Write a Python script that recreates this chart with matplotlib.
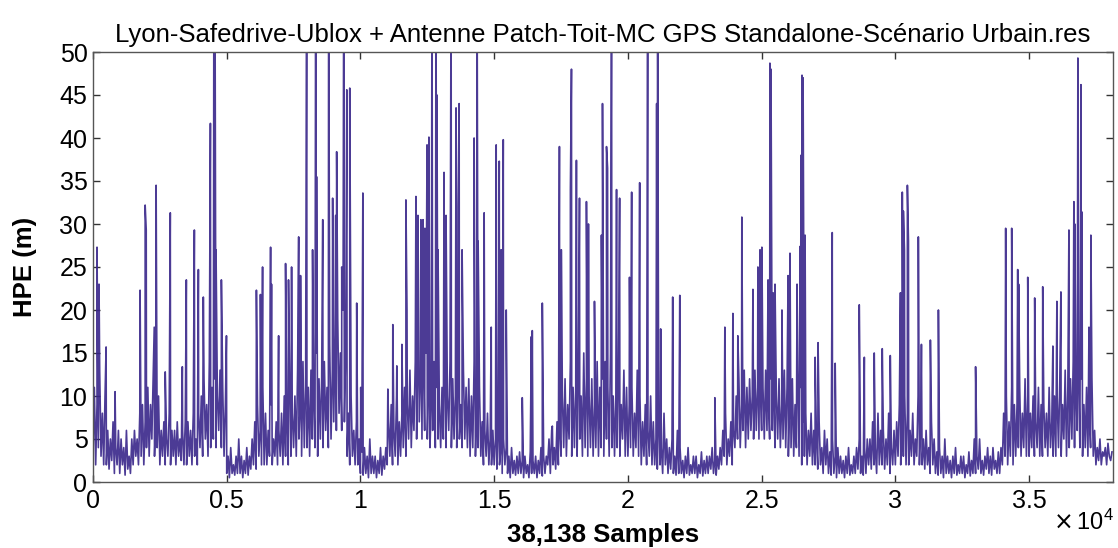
import numpy as np
import matplotlib
matplotlib.use('Agg')
import matplotlib.pyplot as plt

plt.rcParams['font.family'] = ['Liberation Sans', 'DejaVu Sans']

# dense core of the HPE trace, one value every 50 samples, 10 per 500-sample row
# (read off the picture as the low / high swing of the dark band)
core_step = 50
core_hpe = [
    3, 11, 2, 9, 4, 13, 3, 8, 2, 10,
    2, 6, 1.5, 5, 2.5, 7, 1, 4, 2, 6,
    1, 5, 2, 4, 0.8, 6, 1.5, 3, 1, 5,
    2, 6, 3, 5, 2, 8, 3, 9, 2, 7,
    4, 11, 3, 9, 5, 12, 3, 8, 4, 10,
    2, 6, 3, 7, 2, 5, 3, 8, 2, 6,
    3, 6, 2, 7, 3, 5, 2.5, 6, 2, 7,
    2, 7, 3, 6, 2, 8, 3, 5, 2, 8,
    4, 10, 3, 12, 5, 9, 3, 14, 4, 11,
    5, 12, 4, 10, 6, 13, 4, 11, 3, 9,
    1, 3, 0.5, 4, 1, 2, 0.8, 3, 1, 5,
    1, 3, 0.5, 2.5, 1, 4, 0.8, 3, 1.5, 5,
    2, 7, 1.5, 9, 3, 6, 2, 11, 2, 8,
    2, 6, 3, 9, 2, 5, 3, 7, 2, 6,
    3, 8, 2, 10, 3, 7, 2, 12, 3, 8,
    4, 10, 3, 13, 5, 9, 3, 14, 4, 11,
    4, 11, 3, 13, 5, 10, 4, 15, 3, 12,
    5, 12, 4, 14, 6, 11, 4, 16, 5, 13,
    7, 17, 6, 19, 8, 15, 6, 20, 7, 16,
    3, 8, 2, 10, 3, 6, 2, 7, 2, 5,
    1, 3.5, 0.8, 4, 1, 3, 0.5, 5, 1, 3,
    1, 3, 0.5, 2.5, 1, 4, 0.8, 3, 1.5, 4,
    2, 7, 3, 9, 2, 6, 3, 10, 2, 7,
    3, 8, 4, 11, 3, 9, 5, 13, 4, 10,
    6, 14, 5, 16, 7, 13, 5, 17, 6, 15,
    5, 12, 4, 10, 6, 14, 4, 11, 5, 9,
    4, 11, 5, 13, 4, 10, 6, 14, 4, 12,
    5, 10, 4, 12, 5, 9, 4, 13, 5, 11,
    4, 12, 3, 10, 4, 14, 3, 9, 4, 11,
    3, 7, 2, 6, 3, 8, 2, 5, 2, 6,
    2, 5, 1.5, 6, 2, 4, 1, 5, 2, 4,
    1, 3, 0.5, 4, 1, 2.5, 0.8, 3, 1, 3.5,
    1, 2.5, 0.5, 3, 1, 2, 0.5, 3.5, 1, 2.5,
    1, 3, 0.5, 2.5, 1, 4, 0.7, 3, 1, 3,
    2, 5, 1, 6, 2, 4, 1.5, 7, 2, 6,
    3, 10, 4, 12, 3, 9, 5, 14, 3, 11,
    4, 11, 3, 13, 5, 10, 3, 15, 4, 12,
    3, 10, 4, 12, 3, 9, 4, 14, 3, 11,
    4, 12, 3, 14, 5, 11, 3, 15, 4, 10,
    3, 10, 4, 12, 3, 9, 5, 13, 3, 11,
    3, 9, 4, 11, 3, 8, 4, 13, 3, 10,
    2, 7, 3, 9, 2, 6, 3, 10, 2, 7,
    2, 5, 1.5, 7, 2, 4, 1, 8, 2, 5,
    1, 4, 1.5, 5, 1, 3, 0.8, 6, 1, 4,
    1, 2.5, 0.5, 3, 1, 4, 0.8, 2, 1, 3,
    1, 3, 0.5, 2, 1, 3.5, 0.7, 2.5, 1, 3,
    1, 3, 1.5, 4, 1, 2.5, 0.8, 3, 1.5, 4,
    2, 6, 3, 8, 2, 5, 3, 7, 2, 6,
    4, 10, 5, 12, 4, 9, 6, 13, 4, 11,
    5, 12, 6, 10, 5, 13, 6, 11, 5, 12,
    6, 11, 5, 13, 6, 10, 5, 12, 6, 11,
    4, 10, 5, 12, 4, 9, 5, 13, 4, 11,
    3, 10, 4, 12, 3, 9, 4, 13, 3, 11,
    2, 7, 3, 8, 2, 6, 3, 8, 2, 6,
    2, 5, 1.5, 7, 2, 4, 1, 6, 2, 5,
    1, 3.5, 0.8, 5, 1, 3, 0.5, 4, 1, 3,
    1, 2.5, 0.5, 3, 1, 4, 0.8, 2, 1, 3,
    1, 4, 1.5, 5, 1, 3, 0.8, 4, 1, 5,
    2, 5, 1.5, 7, 2, 4, 1, 8, 2, 6,
    2, 6, 1.5, 5, 2, 8, 1, 4, 2, 6,
    2, 7, 3, 9, 2, 6, 3, 10, 2, 8,
    2, 6, 3, 8, 2, 5, 3, 10, 2, 7,
    2, 5, 1.5, 6, 2, 4, 1, 7, 2, 5,
    1, 3.5, 0.8, 4, 1, 3, 0.5, 5, 1, 3,
    1, 2.5, 0.5, 3, 1, 4, 0.8, 2, 1, 3,
    1, 3, 0.5, 2, 1, 3.5, 0.7, 2.5, 1, 5,
    1, 3, 1.5, 5, 1, 2.5, 0.8, 3, 1.5, 4,
    1, 3, 0.8, 4, 1.5, 2.5, 1, 3.5, 1, 4,
    2, 8, 3, 10, 2, 7, 3, 11, 2, 9,
    3, 9, 4, 11, 3, 8, 4, 12, 3, 10,
    3, 8, 4, 10, 3, 7, 4, 11, 3, 9,
    3, 9, 4, 8, 3, 11, 4, 7, 3, 10,
    3, 10, 4, 12, 3, 9, 5, 13, 3, 11,
    4, 12, 5, 14, 4, 11, 6, 13, 4, 12,
    3, 9, 4, 11, 3, 8, 4, 12, 3, 6,
    2, 4, 2.5, 5, 2, 3.5, 3, 4, 2, 4.5,
    3, 2.5, 3.5,
]

# individual spikes: sample index and peak HPE (60 = clipped above 50)
spike_sample = [
    150, 225, 490, 825, 1760, 1950, 1990, 2290, 2360, 2700, 2890, 3340, 3490,
    3790, 3940, 4125, 4390, 4520, 4560, 4600, 4800, 4990, 6110, 6260, 6340,
    6640, 6675, 6940, 7200, 7310, 7425, 7690, 7760, 7990, 8210, 8325, 8360,
    8590, 8810, 8960, 9075, 9110, 9300, 9375, 9490, 9600, 9860, 10010, 10090,
    11025, 11210, 11360, 11550, 11700, 11740, 12075, 12150, 12260, 12340,
    12410, 12490, 12560, 12675,
    12825, 12860, 12900, 13125, 13200, 13390, 13575, 13650, 13690, 13800,
    14250, 14360, 14400, 14625, 14890, 15075, 15190, 15260, 15340, 15450,
    16050, 16390, 16425, 16800, 17175, 17440, 17510, 17850, 17890, 18075,
    18190, 18450, 18525, 18750, 19010, 19050,
    19200, 19240, 19390, 19575, 19690, 20060, 20140, 20440, 20740, 21075,
    21110, 21225, 21675, 21940, 23250, 23625, 23925, 24110, 24260, 24675,
    24860, 24940, 25010, 25240, 25310, 25350, 25425,
    25500, 25760, 25990, 26060, 26325, 26440, 26475, 26510, 26550, 26625,
    27000, 27110, 27640, 27750, 28650, 28840, 29210, 29510, 29810, 30190,
    30260, 30300, 30340, 30450, 30490, 30860, 30975, 31310, 31610,
    33000, 34125, 34350, 34575, 34610, 34950, 35210, 35510, 35890, 36040,
    36190, 36490, 36675, 36710, 36825, 36940, 36975, 37240, 37310,
]
spike_hpe = [
    27.3, 23, 15.7, 10.5, 22.3, 32.2, 29.3, 18, 34.5, 12.8, 31.3, 13.4, 23.5,
    29.3, 24.7, 21.5, 41.7, 60, 60, 27, 23.5, 17, 22.3, 21.8, 25,
    27.3, 23, 17, 25.4, 23.5, 25, 28.5, 24, 60, 27, 60, 35.5,
    30.5, 60, 33, 31, 38.4, 25, 60, 45.6, 45.8, 20.8, 11, 33.6,
    10.8, 18.3, 13.5, 16, 32.8, 20, 33.2, 31, 30.5, 30.5,
    29.5, 39.2, 40.1, 60,
    60, 45, 27, 36, 31, 60, 43.5, 32, 44, 27,
    40, 60, 28, 31.3, 18, 39.2, 37.3, 27, 39.8, 20,
    9.8, 16.9, 17.6, 20.8, 6.5, 39, 27, 34, 48, 37.4,
    33, 32.6, 30, 21, 28.7, 44,
    39, 36.5, 60, 34, 33, 23.8, 33.7, 34.8, 60, 44,
    60, 17.8, 21.5, 21.7, 9.8, 18, 19.6, 17, 30.8, 22.4,
    25, 27, 27.3, 23.5, 48.7, 48, 22,
    23, 20, 24, 26.6, 23, 27.4, 38, 47.3, 47, 28.7,
    14.5, 16.2, 29, 13.8, 20.6, 14.5, 15, 15.5, 14.7, 22,
    33.7, 31.5, 27, 34.5, 28, 28.5, 16, 16.5, 20,
    13.4, 29.5, 29.5, 24.7, 23, 23.8, 21.4, 22.7, 15.8, 21,
    22.1, 29.3, 32.6, 30, 49.3, 46.2, 31.4, 18, 28.7,
]

n_samples = 38138
line_color = '#38258a'

core_x = np.arange(len(core_hpe)) * core_step
x = np.concatenate([core_x, np.array(spike_sample)])
y = np.concatenate([np.array(core_hpe, dtype=float), np.array(spike_hpe, dtype=float)])
order = np.argsort(x, kind='stable')
x, y = x[order], y[order]

fig = plt.figure(figsize=(11.18, 5.48), dpi=100)
ax = fig.add_axes([93 / 1118, 66 / 548, 1020 / 1118, 430 / 548])

ax.plot(x, y, color=line_color, lw=1.2, alpha=0.9)

ax.set_xlim(0, n_samples)
ax.set_ylim(0, 50)
ax.set_yticks(np.arange(0, 51, 5))
xt = np.arange(0, 3.6e4, 5000)
ax.set_xticks(xt)
ax.set_xticklabels(['0', '0.5', '1', '1.5', '2', '2.5', '3', '3.5'])

ax.tick_params(direction='in', length=5, width=1, labelsize=18,
               top=True, right=True, colors='#333333', labelcolor='black')
ax.tick_params(axis='x', pad=5)
ax.tick_params(axis='y', pad=4)
for s in ax.spines.values():
    s.set_color('#555555')
    s.set_linewidth(1)

ax.set_title('Lyon-Safedrive-Ublox + Antenne Patch-Toit-MC GPS Standalone-Scénario Urbain.res',
             fontsize=18.5, pad=7)
ax.set_ylabel('HPE (m)', fontsize=18.5, fontweight='bold', va='center')
ax.yaxis.set_label_coords((25 - 93) / 1020, 0.5)
ax.set_xlabel('38,138 Samples', fontsize=18.5, fontweight='bold', va='center')
ax.xaxis.set_label_coords(0.5, (482 - 535) / 430)
fig.text(1114 / 1118, 1 - 522 / 548, r'$\times\,\mathregular{10^4}$', fontsize=17,
         ha='right', va='center')

fig.savefig('out.png', dpi=100)
